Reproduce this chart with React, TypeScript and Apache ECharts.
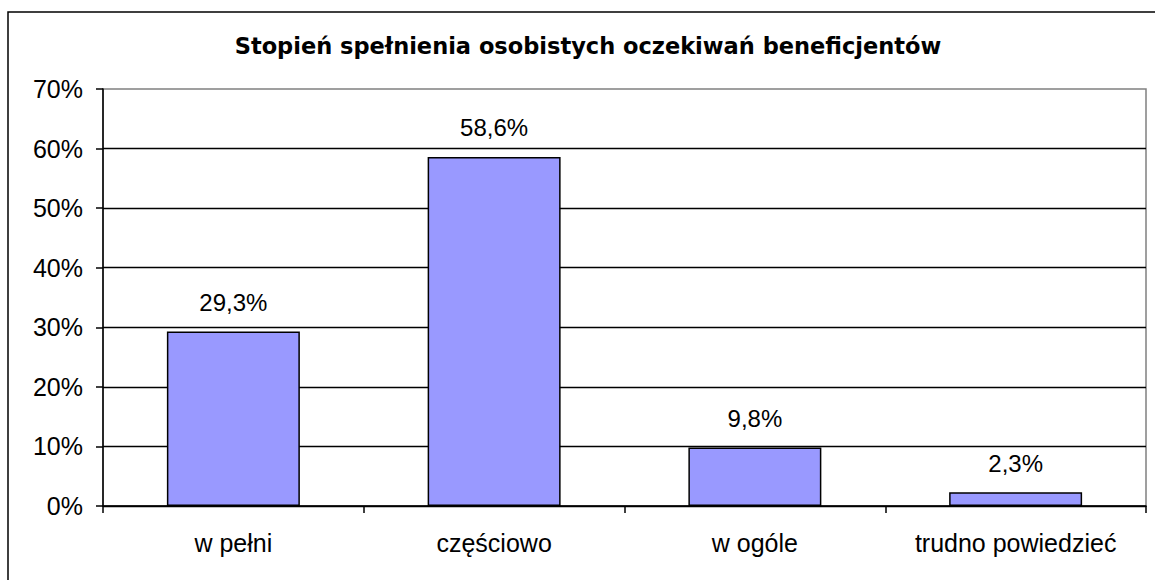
import React, { useEffect, useRef } from "react";
import * as echarts from "echarts";

const title = "Stopień spełnienia osobistych oczekiwań beneficjentów";
const categories = ["w pełni", "częściowo", "w ogóle", "trudno powiedzieć"];
const values = [29.3, 58.6, 9.8, 2.3];
const yMin = 0;
const yMax = 70;
const yStep = 10;

const FONT = "'Liberation Sans', Arial, sans-serif";
const TITLE_FONT = "'DejaVu Sans', 'Liberation Sans', Arial, sans-serif";

export default function App() {
  const ref = useRef<HTMLDivElement>(null);
  useEffect(() => {
    document.body.style.margin = "0";
    const chart = echarts.init(ref.current!, null, { renderer: "svg" });
    chart.setOption({
      animation: false,
      backgroundColor: "#ffffff",
      title: {
        text: title,
        left: 583,
        textAlign: "center",
        top: 29,
        textStyle: { fontFamily: TITLE_FONT, fontWeight: "bold", fontSize: 22.5, color: "#000" },
      },
      graphic: [
        {
          type: "rect",
          shape: { x: 8, y: 12, width: 1170, height: 600 },
          style: { fill: "none", stroke: "#000", lineWidth: 1.5 },
          silent: true,
        },
      ],
      grid: {
        left: 103,
        top: 89,
        right: 9,
        bottom: 74,
        show: true,
        borderColor: "#808080",
        borderWidth: 1.5,
        backgroundColor: "transparent",
      },
      xAxis: {
        type: "category",
        data: categories,
        axisLine: { lineStyle: { color: "#000", width: 1.5 } },
        axisTick: { show: true, interval: 0, length: 7, lineStyle: { color: "#000", width: 1.5 } },
        axisLabel: {
          fontFamily: FONT,
          fontSize: 25,
          color: "#000",
          margin: 24,
          interval: 0,
          hideOverlap: false,
        },
      },
      yAxis: {
        type: "value",
        min: yMin,
        max: yMax,
        interval: yStep,
        axisLine: { show: true, lineStyle: { color: "#000", width: 1.5 } },
        axisTick: { show: true, length: 7, lineStyle: { color: "#000", width: 1.5 } },
        axisLabel: {
          fontFamily: FONT,
          fontSize: 25,
          color: "#000",
          margin: 20,
          formatter: (v: number) => `${v}%`,
        },
        splitLine: { show: true, showMaxLine: false, lineStyle: { color: "#000", width: 1.3 } },
      },
      series: [
        {
          type: "bar",
          data: values,
          barCategoryGap: "49%",
          itemStyle: { color: "#9999FF", borderColor: "#000", borderWidth: 1.5 },
          label: {
            show: true,
            position: "top",
            distance: 17,
            fontFamily: FONT,
            fontSize: 24,
            color: "#000",
            formatter: (p: any) => `${String(p.value).replace(".", ",")}%`,
          },
        },
      ],
    });
    return () => chart.dispose();
  }, []);
  return <div ref={ref} style={{ width: 1155, height: 580, position: "absolute", left: 0, top: 0 }} />;
}
